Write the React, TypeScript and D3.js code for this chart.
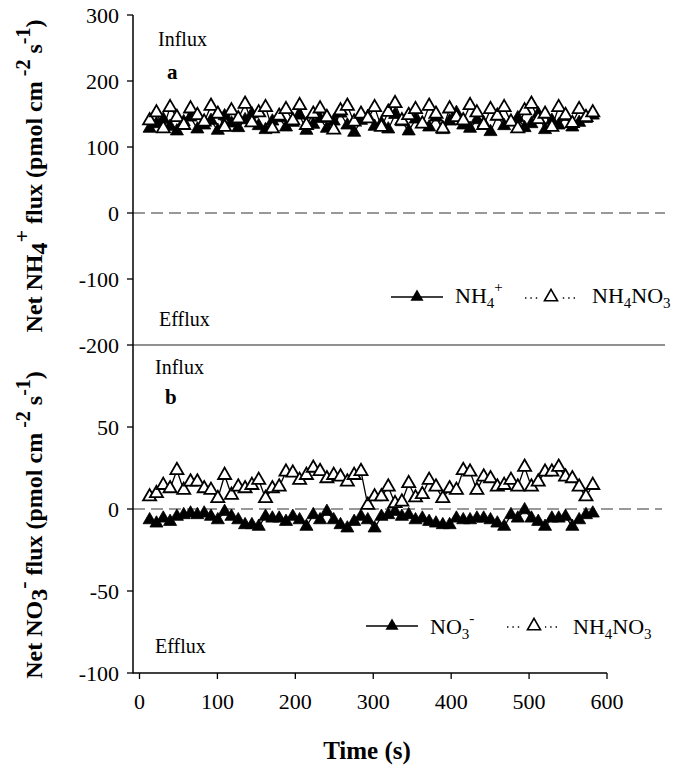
import React from "react";
import * as d3 from "d3";

// ---- data ----
const timeStart = 13;
const timeStep = 8.75;

const xTicks = [0, 100, 200, 300, 400, 500, 600];
const yTicksA = [300, 200, 100, 0, -100, -200];
const yTicksB = [50, 0, -50, -100];

// Panel a: net NH4+ flux
const nh4A = [128, 135, 142, 131, 124, 138, 145, 127, 133, 140, 125, 147, 136, 129, 141, 150, 132, 126, 139, 144, 130, 137, 148, 125, 134, 143, 128, 139, 151, 133, 122, 140, 146, 131, 136, 127, 149, 138, 124, 142, 135, 130, 145, 126, 139, 152, 133, 128, 141, 136, 123, 147, 132, 138, 144, 129, 135, 150, 126, 140, 133, 146, 130, 137, 143, 148];
const nh4no3A = [140, 152, 128, 160, 145, 133, 158, 148, 138, 162, 150, 130, 155, 143, 165, 137, 152, 160, 128, 147, 157, 140, 163, 133, 150, 158, 145, 126, 155, 162, 138, 150, 143, 160, 130, 153, 166, 140, 148, 157, 135, 162, 150, 128, 158, 145, 140, 163, 152, 133, 157, 147, 160, 138, 128, 155, 165, 142, 150, 130, 160, 148, 136, 157, 145, 152];

// Panel b: net NO3- flux
const no3B = [-6.7, -8.7, -5.7, -7.7, -4.6, -3.6, -2.6, -3.6, -2.6, -4.6, -6.7, -1.6, -4.6, -6.7, -9.7, -9.7, -10.7, -4.6, -5.7, -5.7, -7.7, -4.6, -6.7, -10.7, -3.6, -6.7, -1.6, -6.7, -9.7, -11.7, -7.7, -4.6, -6.7, -11.7, -4.6, -3.6, -1.6, -4.6, -3.6, -6.7, -5.7, -7.7, -8.7, -9.7, -9.7, -5.7, -6.7, -6.7, -5.7, -5.7, -6.7, -8.7, -10.7, -3.6, -5.7, -0.6, -5.7, -7.7, -10.7, -5.7, -5.7, -4.6, -10.7, -6.7, -3.6, -2.6];
const nh4no3B = [7.5, 9.5, 14.5, 12.5, 23.6, 11.5, 16.6, 16.6, 12.5, 11.5, 6.5, 20.6, 8.5, 13.5, 12.5, 14.5, 17.6, 6.5, 12.5, 13.5, 22.6, 22, 17.6, 20.6, 25, 23, 18.6, 20.6, 19.6, 16.6, 20.6, 23, 2.4, 7.5, 7.5, 13.5, 3.4, 4.4, 15.6, 6.9, 8.9, 17.6, 13.5, 6.5, 12.5, 11.5, 23.6, 22.6, 11.5, 19.6, 18.6, 13.5, 14.5, 17.6, 13.5, 25.6, 13.5, 16.6, 22.6, 22.6, 25.6, 19.6, 18.6, 13.5, 7.5, 14.5];

const FONT = "'Liberation Serif', 'Times New Roman', serif";

const x = d3.scaleLinear().domain([0, 600]).range([139.5, 607]);
const yA = d3.scaleLinear().domain([-200, 300]).range([345, 15]);
const yB = d3.scaleLinear().domain([-100, 100]).range([673, 345]);

const triPath = d3.symbol(d3.symbolTriangle, 74)() as string;

function Series({ values, y, open }: { values: number[]; y: d3.ScaleLinear<number, number>; open: boolean }) {
  const pts: [number, number][] = values.map((v, i) => [x(timeStart + i * timeStep), y(v)]);
  const line = d3.line()(pts) as string;
  return (
    <g>
      <path d={line} fill="none" stroke="#000" strokeWidth={1.3} />
      {pts.map((p, i) => (
        <path
          key={i}
          d={triPath}
          transform={`translate(${p[0]},${p[1]})`}
          fill={open ? "#fff" : "#000"}
          stroke="#000"
          strokeWidth={open ? 1.8 : 0.8}
        />
      ))}
    </g>
  );
}

const AXIS_X = 133;
const RIGHT = 665;

export default function App() {
  return (
    <svg width={686} height={774} style={{ position: "absolute", left: 0, top: 0, background: "#fff" }} fontFamily={FONT}>
      {/* zero dashed lines */}
      <line x1={AXIS_X} x2={RIGHT} y1={yA(0)} y2={yA(0)} stroke="#333" strokeWidth={1} strokeDasharray="12,6" />
      <line x1={AXIS_X} x2={RIGHT - 3} y1={yB(0)} y2={yB(0)} stroke="#333" strokeWidth={1} strokeDasharray="12,6" />
      {/* separator */}
      <line x1={AXIS_X} x2={RIGHT} y1={345} y2={345} stroke="#222" strokeWidth={1} />

      {/* series */}
      <Series values={nh4A} y={yA} open={false} />
      <Series values={nh4no3A} y={yA} open={true} />
      <Series values={no3B} y={yB} open={false} />
      <Series values={nh4no3B} y={yB} open={true} />

      {/* y axis */}
      <line x1={AXIS_X} x2={AXIS_X} y1={15} y2={673.5} stroke="#000" strokeWidth={1.5} />
      {yTicksA.map((t) => (
        <g key={"a" + t}>
          <line x1={AXIS_X - 6} x2={AXIS_X} y1={yA(t)} y2={yA(t)} stroke="#000" strokeWidth={1.3} />
          <text x={AXIS_X - 14} y={yA(t)} dy="0.35em" textAnchor="end" fontSize={22}>{t}</text>
        </g>
      ))}
      {yTicksB.map((t) => (
        <g key={"b" + t}>
          <line x1={AXIS_X - 6} x2={AXIS_X} y1={yB(t)} y2={yB(t)} stroke="#000" strokeWidth={1.3} />
          <text x={AXIS_X - 14} y={yB(t)} dy="0.35em" textAnchor="end" fontSize={22}>{t}</text>
        </g>
      ))}

      {/* x axis */}
      <line x1={AXIS_X} x2={x(600)} y1={673} y2={673} stroke="#000" strokeWidth={1.5} />
      {xTicks.map((t) => (
        <g key={"x" + t}>
          <line x1={x(t)} x2={x(t)} y1={673} y2={679} stroke="#000" strokeWidth={1.3} />
          <text x={x(t)} y={709} textAnchor="middle" fontSize={22}>{t}</text>
        </g>
      ))}
      <text x={367} y={759} textAnchor="middle" fontSize={25} fontWeight="bold">Time (s)</text>

      {/* y axis titles */}
      <text transform="translate(42,176) rotate(-90)" textAnchor="middle" fontSize={24} fontWeight="bold">
        Net NH<tspan dy={5} fontSize={24}>4</tspan>
        <tspan dy={-18} fontSize={22}>+</tspan>
        <tspan dy={13}> flux (pmol cm</tspan>
        <tspan dy={-12} fontSize={20}> -2</tspan>
        <tspan dy={12}> s</tspan>
        <tspan dy={-12} fontSize={20}>-1</tspan>
        <tspan dy={12}>)</tspan>
      </text>
      <text transform="translate(42,525) rotate(-90)" textAnchor="middle" fontSize={24} fontWeight="bold">
        Net NO<tspan dy={5} fontSize={24}>3</tspan>
        <tspan dy={-17} fontSize={22}>-</tspan>
        <tspan dy={12}> flux (pmol cm</tspan>
        <tspan dy={-12} fontSize={20}> -2</tspan>
        <tspan dy={12}> s</tspan>
        <tspan dy={-12} fontSize={20}>-1</tspan>
        <tspan dy={12}>)</tspan>
      </text>

      {/* annotations */}
      <text x={158} y={46} fontSize={20}>Influx</text>
      <text x={167} y={79} fontSize={21} fontWeight="bold">a</text>
      <text x={159} y={326} fontSize={20}>Efflux</text>
      <text x={155} y={374} fontSize={20}>Influx</text>
      <text x={165} y={404} fontSize={21} fontWeight="bold">b</text>
      <text x={155} y={653} fontSize={20}>Efflux</text>

      {/* legend a */}
      <line x1={391} x2={443} y1={297} y2={297} stroke="#000" strokeWidth={1.3} />
      <path d={triPath} transform="translate(417,297)" fill="#000" />
      <text x={455} y={303} fontSize={22}>
        NH<tspan dy={5} fontSize={15}>4</tspan><tspan dy={-16} fontSize={15}>+</tspan>
      </text>
      <line x1={525} x2={578} y1={298} y2={298} stroke="#000" strokeWidth={1.4} strokeDasharray="1.4,4" />
      <rect x={540} y={288} width={22} height={14} fill="#fff" />
      <path d={triPath} transform="translate(551,297)" fill="#fff" stroke="#000" strokeWidth={1.6} />
      <text x={592} y={303} fontSize={22}>
        NH<tspan dy={5} fontSize={15}>4</tspan><tspan dy={-5}>NO</tspan><tspan dy={5} fontSize={15}>3</tspan>
      </text>

      {/* legend b */}
      <line x1={366} x2={418} y1={626} y2={626} stroke="#000" strokeWidth={1.3} />
      <path d={triPath} transform="translate(392,626)" fill="#000" />
      <text x={430} y={634} fontSize={22}>
        NO<tspan dy={5} fontSize={15}>3</tspan><tspan dy={-16} fontSize={15}>-</tspan>
      </text>
      <line x1={507} x2={560} y1={627} y2={627} stroke="#000" strokeWidth={1.4} strokeDasharray="1.4,4" />
      <rect x={523} y={617} width={22} height={14} fill="#fff" />
      <path d={triPath} transform="translate(534,626)" fill="#fff" stroke="#000" strokeWidth={1.6} />
      <text x={573} y={634} fontSize={22}>
        NH<tspan dy={5} fontSize={15}>4</tspan><tspan dy={-5}>NO</tspan><tspan dy={5} fontSize={15}>3</tspan>
      </text>
    </svg>
  );
}
